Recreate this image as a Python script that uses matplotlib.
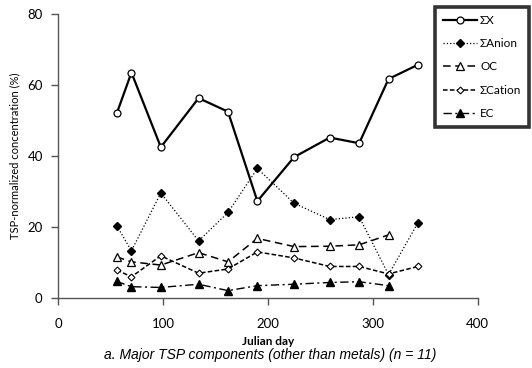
import matplotlib
matplotlib.use('Agg')
import matplotlib.pyplot as plt

days = [56, 70, 98, 134, 162, 190, 225, 259, 287, 315, 343]
sum_x = [52.0, 63.5, 42.5, 56.3, 52.5, 27.3, 39.7, 45.2, 43.6, 61.7, 65.7]
sum_anion = [20.4, 13.3, 29.6, 16.1, 24.1, 36.5, 26.7, 22.1, 22.9, 6.6, 21.2]
oc = [11.6, 10.2, 9.3, 12.8, 10.2, 16.8, 14.5, 14.6, 15.0, 17.8]
sum_cation = [7.9, 6.0, 11.9, 7.0, 8.2, 13.0, 11.3, 8.9, 8.9, 6.8, 8.9]
ec = [4.7, 3.2, 3.0, 3.9, 2.1, 3.5, 3.9, 4.4, 4.6, 3.5]

tick_font = 'Lato'

fig = plt.figure(figsize=(5.32, 3.68), dpi=100)
ax = fig.add_axes([0.109, 0.190, 0.789, 0.772])

ax.plot(days, sum_x, color='black', lw=1.6, ls='-', marker='o', ms=5,
        mfc='white', mec='black', mew=0.9, label='ΣX')
ax.plot(days, sum_anion, color='black', lw=0.9, ls=':', marker='D', ms=4,
        mfc='black', mec='black', label='ΣAnion')
ax.plot(days[:10], oc, color='black', lw=1.1, ls=(0, (5, 3)), marker='^', ms=5.5,
        mfc='white', mec='black', mew=0.9, label='OC')
ax.plot(days, sum_cation, color='black', lw=1.1, ls=(0, (3, 1.5)), marker='D', ms=3.5,
        mfc='white', mec='black', mew=0.8, label='ΣCation')
ax.plot(days[:10], ec, color='black', lw=1.0, ls=(0, (6, 2.5, 1.5, 2.5)), marker='^', ms=5.5,
        mfc='black', mec='black', label='EC')

ax.set_xlim(0, 400)
ax.set_ylim(0, 80)
ax.set_xticks([0, 100, 200, 300, 400])
ax.set_yticks([0, 20, 40, 60, 80])
for s in ['top', 'right']:
    ax.spines[s].set_visible(False)
for s in ['left', 'bottom']:
    ax.spines[s].set_color('#555555')
    ax.spines[s].set_linewidth(1.0)
ax.tick_params(direction='out', length=5, width=1.0, color='#555555', pad=9, labelsize=9.5)
ax.tick_params(axis='y', pad=6)
for lab in ax.get_xticklabels() + ax.get_yticklabels():
    lab.set_fontfamily(tick_font)

ax.set_ylabel('TSP-normalized concentration (%)', fontsize=8, fontfamily=tick_font, labelpad=5)
ax.set_xlabel('Julian day', fontsize=8.5, fontfamily=tick_font, fontweight='bold', labelpad=5)

fig.text(0.508, 0.024, 'a. Major TSP components (other than metals) (n = 11)',
         fontsize=10, fontstyle='italic', fontfamily='Liberation Sans', ha='center')

leg = fig.legend(loc='upper left', bbox_to_anchor=(0.818, 0.981), frameon=True, fancybox=False,
                 prop={'family': tick_font, 'size': 8.5}, handlelength=2.9, labelspacing=1.05,
                 borderpad=0.65, handletextpad=0.25, borderaxespad=0)
leg.get_frame().set_edgecolor('black')
leg.get_frame().set_linewidth(2.6)

fig.savefig('out.png', dpi=100)
